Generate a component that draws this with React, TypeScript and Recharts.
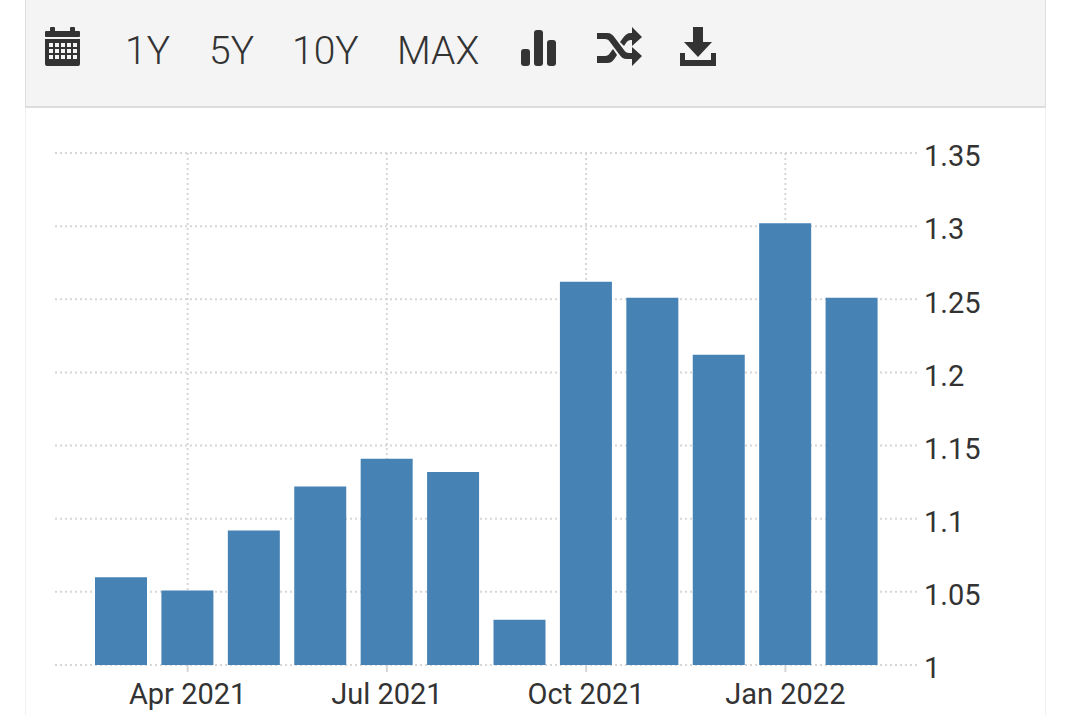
import React from "react";
import { BarChart, Bar, XAxis, YAxis, CartesianGrid } from "recharts";

const months = ["Mar 2021", "Apr 2021", "May 2021", "Jun 2021", "Jul 2021", "Aug 2021", "Sep 2021", "Oct 2021", "Nov 2021", "Dec 2021", "Jan 2022", "Feb 2022"];
const values = [1.06, 1.051, 1.092, 1.122, 1.141, 1.132, 1.031, 1.262, 1.251, 1.212, 1.302, 1.251];
const xTicks = ["Apr 2021", "Jul 2021", "Oct 2021", "Jan 2022"];
const yTicks = [1, 1.05, 1.1, 1.15, 1.2, 1.25, 1.3, 1.35];
const ranges = ["1Y", "5Y", "10Y", "MAX"];
const rangeX = [125, 209, 292, 397];

const chartData = months.map((m, i) => ({ month: m, value: values[i] }));

const ICON = "#333333";

function Toolbar() {
  return (
    <div
      style={{
        position: "absolute",
        left: 25,
        top: -2,
        width: 1019,
        height: 107,
        background: "#f4f4f4",
        border: "1px solid #dddddd",
        borderBottomWidth: 2,
      }}
    />
  );
}

function Icons() {
  return (
    <svg width={1075} height={110} style={{ position: "absolute", left: 0, top: 0 }}>
      {/* calendar */}
      <g fill={ICON}>
        <rect x={45} y={31} width={35} height={6} rx={1} />
        <rect x={50} y={27} width={5} height={6} rx={1} />
        <rect x={70} y={27} width={5} height={6} rx={1} />
        <path
          fillRule="evenodd"
          d="M45 39h35v25a2 2 0 0 1-2 2H47a2 2 0 0 1-2-2z M49 43v4h4v-4z M55 43v4h4v-4z M61 43v4h4v-4z M67 43v4h4v-4z M73 43v4h4v-4z M49 49v4h4v-4z M55 49v4h4v-4z M61 49v4h4v-4z M67 49v4h4v-4z M73 49v4h4v-4z M49 55v4h4v-4z M55 55v4h4v-4z M61 55v4h4v-4z M67 55v4h4v-4z M73 55v4h4v-4z"
        />
      </g>
      {/* bars */}
      <g fill={ICON}>
        <rect x={521} y={49} width={9} height={17} rx={3} />
        <rect x={534} y={30} width={9} height={36} rx={3} />
        <rect x={547} y={40} width={9} height={26} rx={3} />
      </g>
      {/* shuffle */}
      <g fill={ICON}>
        <path d="M597 33h10c4 0 6 2 8 5l9 12c1 2 3 3 5 3h3v-6l10 9-10 10v-7h-5c-4 0-6-2-8-5l-9-12c-1-2-3-3-5-3h-8z" />
        <path d="M597 56h8c2 0 4-1 5-3l3-4 4 6-2 3c-2 3-4 5-8 5h-10z" />
        <path d="M620 42l3-4c2-3 4-5 8-5h1v-6l10 10-10 9v-6h-1c-2 0-4 1-5 3l-2 3z" />
      </g>
      {/* download */}
      <g fill={ICON}>
        <path d="M693 27h10v15h9l-14 15-14-15h9z" />
        <path d="M680 53h5v7h26v-7h5v13h-36z" />
      </g>
      {ranges.map((r, i) => (
        <text key={r} x={rangeX[i]} y={64} fontFamily="Roboto" fontWeight={300} fontSize={39} fill="#333333">
          {r}
        </text>
      ))}
    </svg>
  );
}

export default function App() {
  return (
    <div style={{ position: "absolute", left: 0, top: 0, width: 1075, height: 715, background: "#ffffff", overflow: "hidden" }}>
      <div style={{ position: "absolute", left: 25, top: 100, width: 1019, height: 620, borderLeft: "1px solid #f0f0f0", borderRight: "1px solid #f0f0f0" }} />
      <Toolbar />
      <Icons />
      <div style={{ position: "absolute", left: 0, top: 0 }}>
        <BarChart
          width={1075}
          height={715}
          data={chartData}
          margin={{ top: 153, right: 0, bottom: 0, left: 55 }}
          barSize={52}
        >
          <CartesianGrid stroke="#d6d6d6" strokeWidth={2} strokeDasharray="2 3" syncWithTicks />
          <XAxis
            dataKey="month"
            ticks={xTicks}
            interval={0}
            height={50}
            padding={{ left: 33, right: 32 }}
            axisLine={false}
            tickLine={{ stroke: "#d6d6d6", strokeWidth: 2 }}
            tickSize={7}
            tickMargin={11}
            tick={{ fontSize: 29, fill: "#333333", fontFamily: "Roboto" }}
          />
          <YAxis
            orientation="right"
            domain={[1, 1.35]}
            ticks={yTicks}
            width={158}
            interval={0}
            axisLine={false}
            tickLine={false}
            tickMargin={1}
            tick={{ fontSize: 29, fill: "#333333", fontFamily: "Roboto", dy: 3 }}
          />
          <Bar dataKey="value" fill="#4682b4" isAnimationActive={false} />
        </BarChart>
      </div>
    </div>
  );
}
